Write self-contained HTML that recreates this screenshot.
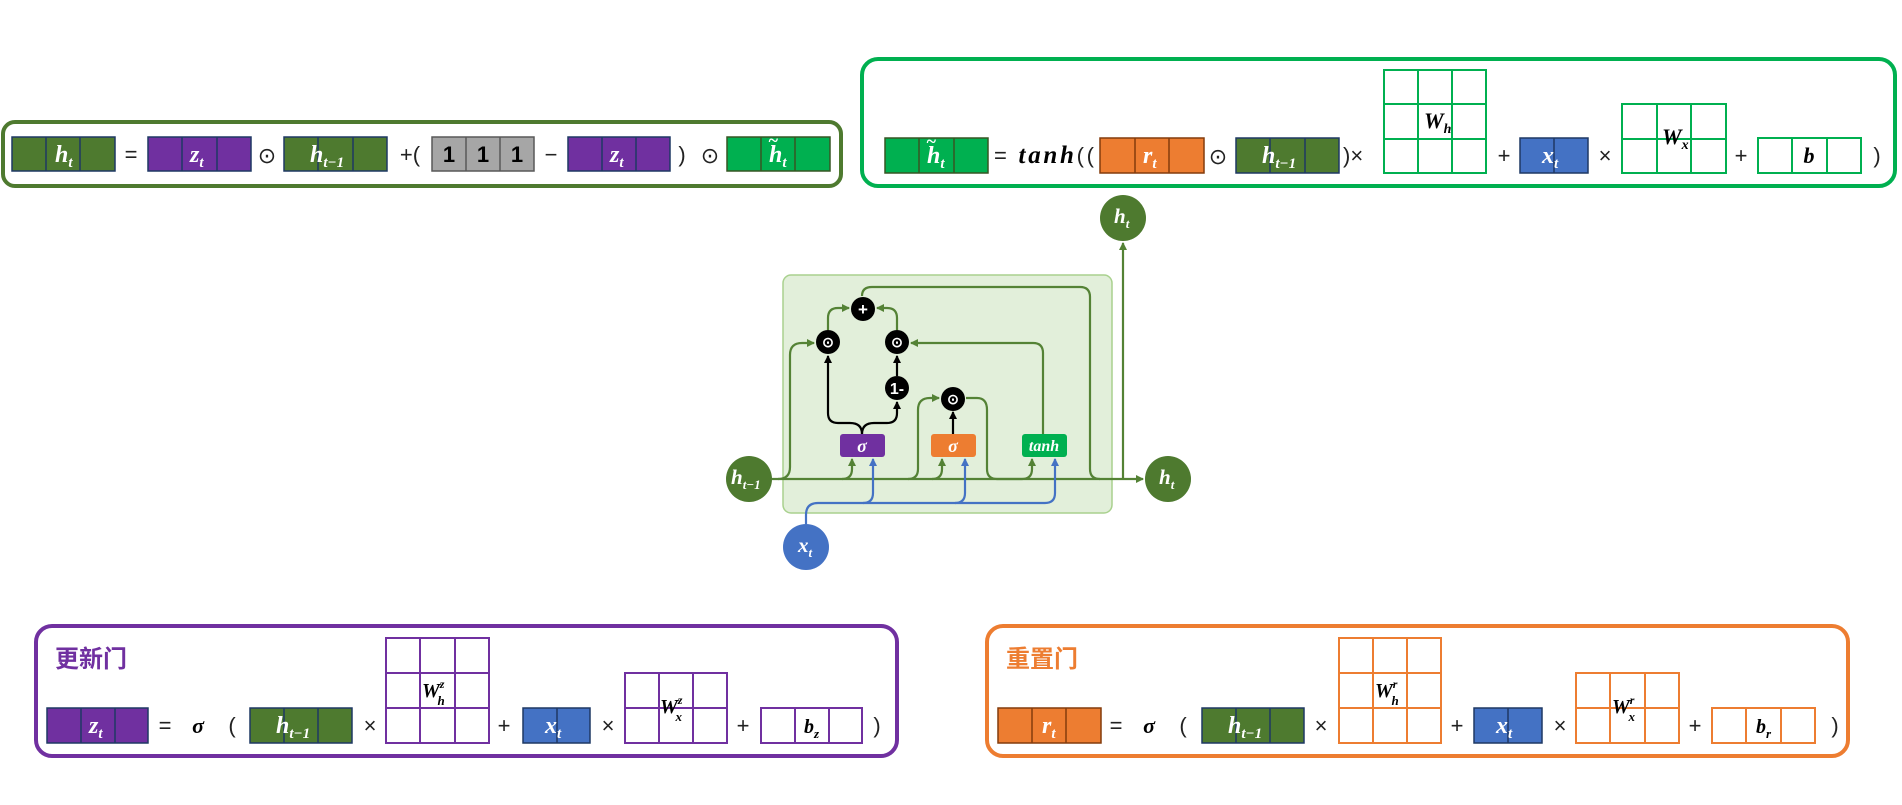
<!DOCTYPE html>
<html><head><meta charset="utf-8"><style>
html,body{margin:0;padding:0;background:#fff;}
svg{display:block;}
.m{font-family:"Liberation Serif",serif;font-style:italic;font-weight:bold;fill:#fff;}
.mk{font-family:"Liberation Serif",serif;font-style:italic;font-weight:bold;fill:#000;}
.op{font-family:"Liberation Sans",sans-serif;font-size:22px;fill:#222;}
.cn{font-family:"Liberation Sans","Noto Sans CJK SC",sans-serif;font-weight:bold;font-size:24px;}
</style></head><body>
<svg width="1902" height="805" viewBox="0 0 1902 805" xmlns="http://www.w3.org/2000/svg">
<defs>
<marker id="ag" markerWidth="8" markerHeight="8" refX="7" refY="4" orient="auto" markerUnits="userSpaceOnUse"><path d="M0,0 L8,4 L0,8 z" fill="#548235"/></marker>
<marker id="ak" markerWidth="8" markerHeight="8" refX="7" refY="4" orient="auto" markerUnits="userSpaceOnUse"><path d="M0,0 L8,4 L0,8 z" fill="#000"/></marker>
<marker id="ab" markerWidth="8" markerHeight="8" refX="7" refY="4" orient="auto" markerUnits="userSpaceOnUse"><path d="M0,0 L8,4 L0,8 z" fill="#4472c4"/></marker>
</defs>

<!-- ===== Top-left box ===== -->
<rect x="3" y="122" width="838" height="64" rx="12" fill="none" stroke="#4e7a2f" stroke-width="4"/>
<g stroke="#1f3864" stroke-width="1.5">
<rect x="12" y="137" width="103" height="34" fill="#4e7a2f"/><line x1="46" y1="137" x2="46" y2="171"/><line x1="80" y1="137" x2="80" y2="171"/>
<rect x="148" y="137" width="103" height="34" fill="#7030a0"/><line x1="182" y1="137" x2="182" y2="171"/><line x1="217" y1="137" x2="217" y2="171"/>
<rect x="284" y="137" width="103" height="34" fill="#4e7a2f"/><line x1="318" y1="137" x2="318" y2="171"/><line x1="353" y1="137" x2="353" y2="171"/>
<rect x="568" y="137" width="102" height="34" fill="#7030a0"/><line x1="602" y1="137" x2="602" y2="171"/><line x1="636" y1="137" x2="636" y2="171"/>
</g>
<g stroke="#595959" stroke-width="1.5"><rect x="432" y="137" width="102" height="34" fill="#a6a6a6"/><line x1="466" y1="137" x2="466" y2="171"/><line x1="500" y1="137" x2="500" y2="171"/></g>
<g stroke="#375623" stroke-width="1.5"><rect x="727" y="137" width="103" height="34" fill="#00b050"/><line x1="761" y1="137" x2="761" y2="171"/><line x1="795" y1="137" x2="795" y2="171"/></g>
<text class="m" x="55" y="162" font-size="24">h<tspan font-size="15" dy="5">t</tspan></text>
<text class="op" x="131" y="162" text-anchor="middle">=</text>
<text class="m" x="190" y="162" font-size="24">z<tspan font-size="15" dy="5">t</tspan></text>
<text class="op" x="267" y="163" text-anchor="middle" font-size="26">⊙</text>
<text class="m" x="310" y="162" font-size="24">h<tspan font-size="15" dy="5">t−1</tspan></text>
<text class="op" x="410" y="162" text-anchor="middle">+(</text>
<g font-family="Liberation Sans,sans-serif" font-weight="bold" font-size="22" text-anchor="middle" fill="#000"><text x="449" y="162">1</text><text x="483" y="162">1</text><text x="517" y="162">1</text></g>
<text class="op" x="551" y="162" text-anchor="middle">−</text>
<text class="m" x="610" y="162" font-size="24">z<tspan font-size="15" dy="5">t</tspan></text>
<text class="op" x="682" y="162" text-anchor="middle">)</text>
<text class="op" x="710" y="163" text-anchor="middle" font-size="26">⊙</text>
<text class="m" x="769" y="162" font-size="24">h<tspan font-size="15" dy="5">t</tspan></text>
<text class="m" x="768" y="146" font-size="18">~</text>

<!-- ===== Top-right box ===== -->
<rect x="862" y="59" width="1033" height="127" rx="16" fill="none" stroke="#00b050" stroke-width="4"/>
<g stroke="#375623" stroke-width="1.5"><rect x="885" y="138" width="103" height="35" fill="#00b050"/><line x1="919" y1="138" x2="919" y2="173"/><line x1="954" y1="138" x2="954" y2="173"/></g>
<text class="m" x="927" y="163" font-size="24">h<tspan font-size="15" dy="5">t</tspan></text>
<text class="m" x="926" y="147" font-size="18">~</text>
<text x="994" y="163" font-size="24" textLength="100" lengthAdjust="spacing"><tspan class="op" font-size="24">=</tspan><tspan class="mk" font-size="25"> tanh</tspan><tspan class="op" font-size="24">((</tspan></text>
<g stroke="#843c0c" stroke-width="1.5"><rect x="1100" y="138" width="104" height="35" fill="#ed7d31"/><line x1="1135" y1="138" x2="1135" y2="173"/><line x1="1169" y1="138" x2="1169" y2="173"/></g>
<text class="m" x="1143" y="163" font-size="24">r<tspan font-size="15" dy="5">t</tspan></text>
<text class="op" x="1218" y="164" text-anchor="middle" font-size="26">⊙</text>
<g stroke="#1f3864" stroke-width="1.5"><rect x="1236" y="138" width="103" height="35" fill="#4e7a2f"/><line x1="1270" y1="138" x2="1270" y2="173"/><line x1="1305" y1="138" x2="1305" y2="173"/></g>
<text class="m" x="1262" y="163" font-size="24">h<tspan font-size="15" dy="5">t−1</tspan></text>
<text class="op" x="1343" y="163">)×</text>
<g stroke="#00b050" stroke-width="2" fill="#fff"><rect x="1384" y="70" width="102" height="103"/><line x1="1418" y1="70" x2="1418" y2="173"/><line x1="1452" y1="70" x2="1452" y2="173"/><line x1="1384" y1="104" x2="1486" y2="104"/><line x1="1384" y1="139" x2="1486" y2="139"/></g>
<text class="mk" x="1424" y="128" font-size="22">W<tspan font-size="14" dy="5">h</tspan></text>
<text class="op" x="1504" y="163" text-anchor="middle">+</text>
<g stroke="#1f3864" stroke-width="1.5"><rect x="1520" y="138" width="68" height="35" fill="#4472c4"/><line x1="1554" y1="138" x2="1554" y2="173"/></g>
<text class="m" x="1542" y="163" font-size="24">x<tspan font-size="15" dy="5">t</tspan></text>
<text class="op" x="1605" y="163" text-anchor="middle">×</text>
<g stroke="#00b050" stroke-width="2" fill="#fff"><rect x="1622" y="104" width="104" height="69"/><line x1="1657" y1="104" x2="1657" y2="173"/><line x1="1691" y1="104" x2="1691" y2="173"/><line x1="1622" y1="139" x2="1726" y2="139"/></g>
<text class="mk" x="1662" y="144" font-size="22">W<tspan font-size="14" dy="5">x</tspan></text>
<text class="op" x="1741" y="163" text-anchor="middle">+</text>
<g stroke="#00b050" stroke-width="2" fill="#fff"><rect x="1758" y="138" width="103" height="35"/><line x1="1792" y1="138" x2="1792" y2="173"/><line x1="1827" y1="138" x2="1827" y2="173"/></g>
<text class="mk" x="1809" y="163" font-size="22" text-anchor="middle">b</text>
<text class="op" x="1877" y="163" text-anchor="middle">)</text>

<!-- ===== Center cell ===== -->
<rect x="783" y="275" width="329" height="238" rx="8" fill="#e2efda" stroke="#a9d18e" stroke-width="1.5"/>
<g fill="none" stroke="#548235" stroke-width="2.2">
<line x1="772" y1="479" x2="1143" y2="479" marker-end="url(#ag)"/>
<path d="M778 479 Q790 479 790 467 L790 355 Q790 343 802 343 L814 343" marker-end="url(#ag)"/>
<path d="M842 479 Q852 479 852 469 L852 459" marker-end="url(#ag)"/>
<path d="M908 479 Q918 479 918 469 L918 410 Q918 398 930 398 L939 398" marker-end="url(#ag)"/>
<path d="M932 479 Q942 479 942 469 L942 459" marker-end="url(#ag)"/>
<path d="M966 398 L977 398 Q987 398 987 410 L987 469 Q987 479 997 479 L1022 479 Q1032 479 1032 469 L1032 459" marker-end="url(#ag)"/>
<path d="M1043 434 L1043 353 Q1043 343 1033 343 L911 343" marker-end="url(#ag)"/>
<path d="M897 330 L897 318 Q897 308 887 308 L877 308" marker-end="url(#ag)"/>
<path d="M828 330 L828 318 Q828 308 838 308 L849 308" marker-end="url(#ag)"/>
<path d="M862 296 Q862 287 872 287 L1080 287 Q1090 287 1090 297 L1090 469 Q1090 479 1100 479"/>
<path d="M1123 479 Q1123 472 1123 465 L1123 243" marker-end="url(#ag)"/>
</g>
<g fill="none" stroke="#000" stroke-width="2.2">
<path d="M862 434 Q862 423 850 423 L838 423 Q828 423 828 413 L828 356" marker-end="url(#ak)"/>
<path d="M862 434 Q862 423 874 423 L887 423 Q897 423 897 413 L897 402" marker-end="url(#ak)"/>
<path d="M897 376 L897 356" marker-end="url(#ak)"/>
<path d="M953 434 L953 412" marker-end="url(#ak)"/>
</g>
<g fill="none" stroke="#4472c4" stroke-width="2.2">
<path d="M806 524 L806 515 Q806 503 818 503 L1045 503 Q1055 503 1055 493 L1055 459" marker-end="url(#ab)"/>
<path d="M863 503 Q873 503 873 493 L873 459" marker-end="url(#ab)"/>
<path d="M955 503 Q965 503 965 493 L965 459" marker-end="url(#ab)"/>
</g>
<g fill="#000">
<circle cx="863" cy="309" r="12"/><circle cx="828" cy="342" r="12"/><circle cx="897" cy="342" r="12"/><circle cx="897" cy="388" r="12"/><circle cx="953" cy="399" r="12"/>
</g>
<g fill="#fff" font-family="Liberation Sans,sans-serif" font-weight="bold" text-anchor="middle">
<text x="863" y="315" font-size="17">+</text>
<text x="828" y="347" font-size="14">⊙</text><text x="897" y="347" font-size="14">⊙</text><text x="953" y="404" font-size="14">⊙</text>
<text x="897" y="394" font-size="16">1-</text>
</g>
<rect x="840" y="434" width="45" height="23" rx="3" fill="#7030a0"/>
<rect x="931" y="434" width="45" height="23" rx="3" fill="#ed7d31"/>
<rect x="1022" y="434" width="45" height="23" rx="3" fill="#00b050"/>
<text class="m" x="862" y="452" font-size="18" text-anchor="middle">σ</text>
<text class="m" x="953" y="452" font-size="18" text-anchor="middle">σ</text>
<text class="m" x="1044" y="451" font-size="16" text-anchor="middle">tanh</text>
<circle cx="749" cy="479" r="23" fill="#4e7a2f"/>
<circle cx="1168" cy="479" r="23" fill="#4e7a2f"/>
<circle cx="1123" cy="218" r="23" fill="#4e7a2f"/>
<circle cx="806" cy="547" r="23" fill="#4472c4"/>
<text class="m" x="731" y="484" font-size="21">h<tspan font-size="13" dy="5">t−1</tspan></text>
<text class="m" x="1159" y="484" font-size="21">h<tspan font-size="13" dy="5">t</tspan></text>
<text class="m" x="1114" y="223" font-size="21">h<tspan font-size="13" dy="5">t</tspan></text>
<text class="m" x="798" y="552" font-size="21">x<tspan font-size="13" dy="5">t</tspan></text>

<!-- ===== Bottom purple box ===== -->
<g>
<rect x="36" y="626" width="861" height="130" rx="16" fill="none" stroke="#7030a0" stroke-width="4"/>
<text class="cn" x="55" y="667" fill="#7030a0">更新门</text>
<g stroke="#1f3864" stroke-width="1.5"><rect x="47" y="708" width="101" height="35" fill="#7030a0"/><line x1="81" y1="708" x2="81" y2="743"/><line x1="115" y1="708" x2="115" y2="743"/></g>
<text class="m" x="89" y="733" font-size="24">z<tspan font-size="15" dy="5">t</tspan></text>
<text class="op" x="165" y="733" text-anchor="middle">=</text>
<text class="mk" x="198" y="733" font-size="22" text-anchor="middle">σ</text>
<text class="op" x="232" y="733" text-anchor="middle">(</text>
<g stroke="#1f3864" stroke-width="1.5"><rect x="250" y="708" width="102" height="35" fill="#4e7a2f"/><line x1="284" y1="708" x2="284" y2="743"/><line x1="318" y1="708" x2="318" y2="743"/></g>
<text class="m" x="276" y="733" font-size="24">h<tspan font-size="15" dy="5">t−1</tspan></text>
<text class="op" x="370" y="733" text-anchor="middle">×</text>
<g stroke="#7030a0" stroke-width="2" fill="#fff"><rect x="386" y="638" width="103" height="105"/><line x1="420" y1="638" x2="420" y2="743"/><line x1="455" y1="638" x2="455" y2="743"/><line x1="386" y1="673" x2="489" y2="673"/><line x1="386" y1="708" x2="489" y2="708"/></g>
<text class="mk" x="422" y="697" font-size="20">W<tspan font-size="12" dy="-9">z</tspan><tspan font-size="13" dx="-7" dy="17">h</tspan></text>
<text class="op" x="504" y="733" text-anchor="middle">+</text>
<g stroke="#1f3864" stroke-width="1.5"><rect x="523" y="708" width="67" height="35" fill="#4472c4"/><line x1="557" y1="708" x2="557" y2="743"/></g>
<text class="m" x="545" y="733" font-size="24">x<tspan font-size="15" dy="5">t</tspan></text>
<text class="op" x="608" y="733" text-anchor="middle">×</text>
<g stroke="#7030a0" stroke-width="2" fill="#fff"><rect x="625" y="673" width="102" height="70"/><line x1="659" y1="673" x2="659" y2="743"/><line x1="693" y1="673" x2="693" y2="743"/><line x1="625" y1="708" x2="727" y2="708"/></g>
<text class="mk" x="660" y="713" font-size="20">W<tspan font-size="12" dy="-9">z</tspan><tspan font-size="13" dx="-7" dy="17">x</tspan></text>
<text class="op" x="743" y="733" text-anchor="middle">+</text>
<g stroke="#7030a0" stroke-width="2" fill="#fff"><rect x="761" y="708" width="101" height="35"/><line x1="795" y1="708" x2="795" y2="743"/><line x1="829" y1="708" x2="829" y2="743"/></g>
<text class="mk" x="804" y="733" font-size="20">b<tspan font-size="13" dy="5">z</tspan></text>
<text class="op" x="877" y="733" text-anchor="middle">)</text>
</g>

<!-- ===== Bottom orange box ===== -->
<g transform="translate(951,0)">
<rect x="36" y="626" width="861" height="130" rx="16" fill="none" stroke="#ed7d31" stroke-width="4"/>
<text class="cn" x="55" y="667" fill="#ed7d31">重置门</text>
<g stroke="#843c0c" stroke-width="1.5"><rect x="47" y="708" width="103" height="35" fill="#ed7d31"/><line x1="81" y1="708" x2="81" y2="743"/><line x1="115" y1="708" x2="115" y2="743"/></g>
<text class="m" x="91" y="733" font-size="24">r<tspan font-size="15" dy="5">t</tspan></text>
<text class="op" x="165" y="733" text-anchor="middle">=</text>
<text class="mk" x="198" y="733" font-size="22" text-anchor="middle">σ</text>
<text class="op" x="232" y="733" text-anchor="middle">(</text>
<g stroke="#1f3864" stroke-width="1.5"><rect x="251" y="708" width="102" height="35" fill="#4e7a2f"/><line x1="285" y1="708" x2="285" y2="743"/><line x1="319" y1="708" x2="319" y2="743"/></g>
<text class="m" x="277" y="733" font-size="24">h<tspan font-size="15" dy="5">t−1</tspan></text>
<text class="op" x="370" y="733" text-anchor="middle">×</text>
<g stroke="#ed7d31" stroke-width="2" fill="#fff"><rect x="388" y="638" width="102" height="105"/><line x1="422" y1="638" x2="422" y2="743"/><line x1="456" y1="638" x2="456" y2="743"/><line x1="388" y1="673" x2="490" y2="673"/><line x1="388" y1="708" x2="490" y2="708"/></g>
<text class="mk" x="424" y="697" font-size="20">W<tspan font-size="12" dy="-9">r</tspan><tspan font-size="13" dx="-6" dy="17">h</tspan></text>
<text class="op" x="506" y="733" text-anchor="middle">+</text>
<g stroke="#1f3864" stroke-width="1.5"><rect x="523" y="708" width="68" height="35" fill="#4472c4"/><line x1="557" y1="708" x2="557" y2="743"/></g>
<text class="m" x="545" y="733" font-size="24">x<tspan font-size="15" dy="5">t</tspan></text>
<text class="op" x="609" y="733" text-anchor="middle">×</text>
<g stroke="#ed7d31" stroke-width="2" fill="#fff"><rect x="625" y="673" width="103" height="70"/><line x1="659" y1="673" x2="659" y2="743"/><line x1="694" y1="673" x2="694" y2="743"/><line x1="625" y1="708" x2="728" y2="708"/></g>
<text class="mk" x="661" y="713" font-size="20">W<tspan font-size="12" dy="-9">r</tspan><tspan font-size="13" dx="-6" dy="17">x</tspan></text>
<text class="op" x="744" y="733" text-anchor="middle">+</text>
<g stroke="#ed7d31" stroke-width="2" fill="#fff"><rect x="761" y="708" width="103" height="35"/><line x1="795" y1="708" x2="795" y2="743"/><line x1="830" y1="708" x2="830" y2="743"/></g>
<text class="mk" x="805" y="733" font-size="20">b<tspan font-size="13" dy="5">r</tspan></text>
<text class="op" x="884" y="733" text-anchor="middle">)</text>
</g>
</svg>
</body></html>
